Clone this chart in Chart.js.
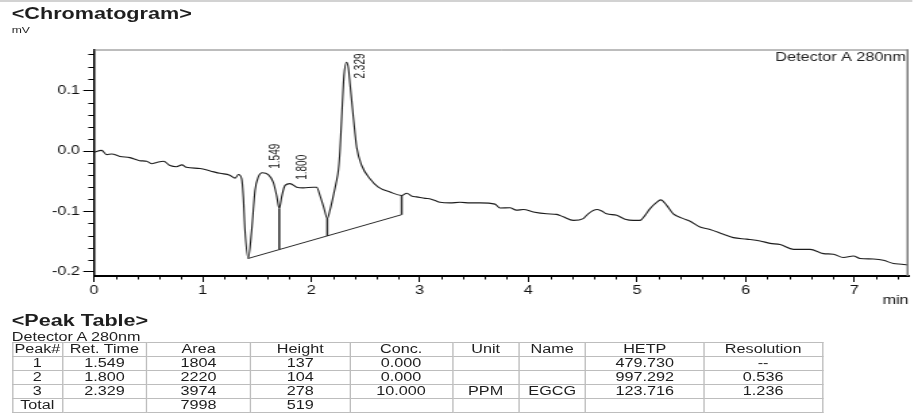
<!DOCTYPE html>
<html lang="en">
<head>
<meta charset="utf-8">
<title>Chromatogram</title>
<script src="https://cdn.jsdelivr.net/npm/chart.js@4.4.1/dist/chart.umd.min.js"></script>
<style>
  html, body { margin: 0; background: #fff; }
  body { font-family: 'Liberation Sans', Arial, sans-serif; color: #1e1e1e; }
  /* the report is drawn narrow and stretched sideways, like the printout */
  #page { position: relative; width: 676px; height: 417px; transform: scaleX(1.35); transform-origin: 0 0; overflow: hidden; }
  .top-rule { position: absolute; left: 0; top: 0; width: 676px; height: 2px; background: #d2d2d2; }
  .section-title { position: absolute; left: 8.7px; font-weight: bold; font-size: 16px; line-height: 16px; white-space: nowrap; }
  .small-label { position: absolute; left: 8.7px; white-space: nowrap; }
  #chromChart { position: absolute; left: 0; top: 0; }
  #peak-table { position: absolute; left: 8.7px; top: 342px; border-collapse: collapse; table-layout: fixed; width: 600px; font-size: 12px; color: #1e1e1e; }
  #peak-table td { border: 1px solid #bdbdbd; height: 13px; padding: 0; line-height: 13px; text-align: center; white-space: nowrap; overflow: hidden; }
</style>
</head>
<body>
<div id="page">
  <div class="top-rule"></div>
  <div class="section-title" style="top:6px">&lt;Chromatogram&gt;</div>
  <div class="small-label" style="top:25px; font-size:9px; line-height:10px">mV</div>
  <canvas id="chromChart" width="676" height="310"></canvas>
  <div class="section-title" style="top:313px">&lt;Peak Table&gt;</div>
  <div class="small-label" style="top:331px; font-size:12px; line-height:12px">Detector A 280nm</div>
  <table id="peak-table">
    <colgroup id="peak-cols"></colgroup>
    <tbody id="peak-body"></tbody>
  </table>
</div>

<script>
// ==============================================================
// 1. DATA
// ==============================================================
const timeMin = [
  0.00, 0.07, 0.117, 0.163, 0.24, 0.33, 0.42, 0.485, 0.53, 0.577, 0.64, 0.70, 0.76, 0.81, 0.85, 0.976,
  1.07, 1.16, 1.25, 1.30, 1.33, 1.36, 1.375, 1.39, 1.42, 1.452, 1.483, 1.513, 1.549, 1.605, 1.651, 1.682,
  1.706, 1.728, 1.759, 1.805, 1.866, 1.927, 2.02, 2.05, 2.081, 2.118, 2.148, 2.173, 2.204, 2.228, 2.25,
  2.265, 2.284, 2.302, 2.325, 2.342, 2.357, 2.388, 2.419, 2.465, 2.541, 2.618, 2.726, 2.833, 2.879, 2.93,
  2.97, 3.05, 3.09, 3.14, 3.186, 3.278, 3.37, 3.462, 3.554, 3.692, 3.738, 3.83, 3.89, 3.953, 4.045, 4.168,
  4.26, 4.32, 4.414, 4.505, 4.55, 4.63, 4.675, 4.72, 4.813, 4.89, 4.966, 5.028, 5.074, 5.12, 5.18, 5.218,
  5.273, 5.334, 5.426, 5.488, 5.58, 5.672, 5.795, 5.887, 6.01, 6.133, 6.225, 6.317, 6.44, 6.593, 6.716,
  6.808, 6.9, 6.992, 7.053, 7.176, 7.268, 7.36, 7.437, 7.5
];
const signalMv = [
  -0.002, 0.001, -0.006, -0.005, -0.009, -0.011, -0.016, -0.017, -0.021, -0.019, -0.017, -0.024, -0.026, -0.023, -0.027, -0.029,
  -0.033, -0.037, -0.040, -0.045, -0.039, -0.046, -0.076, -0.131, -0.178, -0.131, -0.065, -0.043, -0.036, -0.039, -0.052, -0.074,
  -0.0955, -0.076, -0.057, -0.054, -0.060, -0.061, -0.060, -0.060, -0.074, -0.095, -0.112, -0.098, -0.074, -0.054, -0.032,
  0.001, 0.067, 0.125, 0.147, 0.138, 0.112, 0.056, 0.006, -0.024, -0.046, -0.060, -0.068, -0.0736, -0.070, -0.075,
  -0.076, -0.0785, -0.079, -0.082, -0.085, -0.086, -0.085, -0.086, -0.086, -0.088, -0.0945, -0.094, -0.098, -0.097, -0.101, -0.104,
  -0.105, -0.109, -0.115, -0.112, -0.104, -0.097, -0.0995, -0.104, -0.1066, -0.113, -0.115, -0.115, -0.1066, -0.0955, -0.085, -0.081,
  -0.090, -0.104, -0.112, -0.1165, -0.126, -0.130, -0.138, -0.1435, -0.146, -0.149, -0.153, -0.155, -0.163, -0.163, -0.170,
  -0.171, -0.1765, -0.174, -0.178, -0.179, -0.181, -0.1865, -0.1876, -0.189
];

// integration baseline and drop lines
const baselineX = [1.42, 2.833];
const baselineY = [-0.178, -0.1055];
const dropX = [1.706, 2.148, 2.833];
const dropTop = [-0.0955, -0.112, -0.0736];
const dropBottom = [-0.1633, -0.1407, -0.1055];

// axes
const xMajorTicks = [0, 1, 2, 3, 4, 5, 6, 7];
const yMajorTicks = [-0.2, -0.1, 0.0, 0.1];
const X_MIN = 0, X_MAX = 7.5, X_MINOR_STEP = 0.2;
const Y_MIN = -0.2071, Y_MAX = 0.1682, Y_MINOR_STEP = 0.02;

// peak table
const peakNo = ['1', '2', '3'];
const retTime = [1.549, 1.800, 2.329];
const peakArea = [1804, 2220, 3974];
const peakHeight = [137, 104, 278];
const peakConc = ['0.000', '0.000', '10.000'];
const peakUnit = ['', '', 'PPM'];
const peakName = ['', '', 'EGCG'];
const peakHetp = ['479.730', '997.292', '123.716'];
const peakResolution = ['--', '0.536', '1.236'];
const totalArea = 7998;
const totalHeight = 519;
const tableHeader = ['Peak#', 'Ret. Time', 'Area', 'Height', 'Conc.', 'Unit', 'Name', 'HETP', 'Resolution'];
const tableColWidths = [37, 62.4, 77.1, 73.5, 75.9, 49.3, 49.4, 87.7, 87.7];

// ==============================================================
// 2. LAYOUT CONSTANTS (canvas units, before the sideways stretch)
// ==============================================================
const Y_AXIS_WIDTH = 69.6;
const X_AXIS_HEIGHT = 34;
const FONT = "'Liberation Sans', Arial, sans-serif";

function valueAt(t) {
  for (let i = 1; i < timeMin.length; i++) {
    if (timeMin[i] >= t) {
      const k = (t - timeMin[i - 1]) / (timeMin[i] - timeMin[i - 1]);
      return signalMv[i - 1] + k * (signalMv[i] - signalMv[i - 1]);
    }
  }
  return signalMv[signalMv.length - 1];
}

// ==============================================================
// 3. PLUGIN: frame, minor ticks, detector caption, peak labels
// ==============================================================
const chromDecor = {
  id: 'chromDecor',
  afterDraw(chart) {
    const { ctx, chartArea: a, scales: { x, y } } = chart;
    ctx.save();

    // grey top and right frame
    ctx.strokeStyle = '#7a7a7a';
    ctx.lineWidth = 1;
    ctx.beginPath();
    ctx.moveTo(a.left, a.top + 0.5);
    ctx.lineTo(a.right, a.top + 0.5);
    ctx.stroke();
    ctx.lineWidth = 1.5;
    ctx.beginPath();
    ctx.moveTo(a.right - 0.75, a.top);
    ctx.lineTo(a.right - 0.75, a.bottom);
    ctx.stroke();

    // minor ticks
    ctx.strokeStyle = '#000';
    ctx.lineWidth = 1;
    ctx.beginPath();
    const nx = Math.round((X_MAX - X_MIN) / X_MINOR_STEP);
    for (let i = 0; i <= nx; i++) {
      const v = X_MIN + i * X_MINOR_STEP;
      if (i % 5 === 0) continue;
      const px = Math.round(x.getPixelForValue(v)) + 0.5;
      ctx.moveTo(px, a.bottom);
      ctx.lineTo(px, a.bottom + 3.5);
    }
    const ny = Math.round((0.16 - (-0.2)) / Y_MINOR_STEP);
    for (let i = 0; i <= ny; i++) {
      if (i % 5 === 0) continue;
      const v = -0.2 + i * Y_MINOR_STEP;
      const py = Math.round(y.getPixelForValue(v)) + 0.5;
      ctx.moveTo(a.left, py);
      ctx.lineTo(a.left - 4.2, py);
    }
    ctx.stroke();

    // detector caption
    ctx.fillStyle = '#222';
    ctx.font = '12px ' + FONT;
    ctx.textAlign = 'right';
    ctx.textBaseline = 'alphabetic';
    ctx.fillText('Detector A 280nm', a.right - 2, a.top + 11.5);

    // rotated retention-time labels
    ctx.font = '10px ' + FONT;
    ctx.textAlign = 'left';
    retTime.forEach((rt) => {
      const label = rt.toFixed(3);
      const len = ctx.measureText(label).width;
      const px = x.getPixelForValue(rt) + 13;
      let bottom = y.getPixelForValue(valueAt(rt)) - 4;
      if (bottom - len < a.top + 4) bottom = a.top + 4 + len;
      ctx.save();
      ctx.translate(px, bottom);
      ctx.rotate(-Math.PI / 2);
      ctx.fillText(label, 0, 0);
      ctx.restore();
    });

    ctx.restore();
  }
};

// ==============================================================
// 4. CHART
// ==============================================================
const lineStyle = { pointRadius: 0, tension: 0, fill: false };
const datasets = [
  {
    ...lineStyle,
    data: timeMin.map((t, i) => ({ x: t, y: signalMv[i] })),
    borderColor: '#1c1c1c',
    borderWidth: 1.1,
    cubicInterpolationMode: 'monotone'
  },
  {
    ...lineStyle,
    data: baselineX.map((t, i) => ({ x: t, y: baselineY[i] })),
    borderColor: '#2a2a2a',
    borderWidth: 1
  },
  ...dropX.map((t, i) => ({
    ...lineStyle,
    data: [{ x: t, y: dropTop[i] }, { x: t, y: dropBottom[i] }],
    borderColor: '#2a2a2a',
    borderWidth: 1.5
  }))
];

new Chart(document.getElementById('chromChart').getContext('2d'), {
  type: 'line',
  data: { datasets },
  options: {
    responsive: false,
    animation: false,
    events: [],
    layout: { padding: { top: 49.5, right: 3, left: 0, bottom: 0 } },
    plugins: { legend: { display: false }, tooltip: { enabled: false } },
    scales: {
      x: {
        type: 'linear',
        min: X_MIN,
        max: X_MAX,
        afterBuildTicks: (scale) => { scale.ticks = xMajorTicks.map(v => ({ value: v })); },
        afterFit: (scale) => { scale.height = X_AXIS_HEIGHT; },
        grid: { drawOnChartArea: false, drawTicks: true, tickLength: 6, color: '#000', tickWidth: 1 },
        border: { display: true, color: '#000', width: 2 },
        ticks: { color: '#111', padding: 1.5, maxRotation: 0, font: { family: FONT, size: 12 }, callback: (v) => String(v) },
        title: { display: true, text: 'min', align: 'end', color: '#111', font: { family: FONT, size: 12 }, padding: { top: 0, bottom: 2 } }
      },
      y: {
        type: 'linear',
        min: Y_MIN,
        max: Y_MAX,
        afterBuildTicks: (scale) => { scale.ticks = yMajorTicks.map(v => ({ value: v })); },
        afterFit: (scale) => { scale.width = Y_AXIS_WIDTH; },
        grid: { drawOnChartArea: false, drawTicks: true, tickLength: 7.9, color: '#000', tickWidth: 1 },
        border: { display: true, color: '#000', width: 1.5 },
        ticks: { color: '#111', padding: 2.5, font: { family: FONT, size: 12 }, callback: (v) => v.toFixed(1) }
      }
    }
  },
  plugins: [chromDecor]
});

// ==============================================================
// 5. PEAK TABLE
// ==============================================================
const cols = document.getElementById('peak-cols');
tableColWidths.forEach(w => {
  const c = document.createElement('col');
  c.style.width = w + 'px';
  cols.appendChild(c);
});

const rows = [tableHeader];
peakNo.forEach((n, i) => {
  rows.push([n, retTime[i].toFixed(3), peakArea[i], peakHeight[i], peakConc[i], peakUnit[i], peakName[i], peakHetp[i], peakResolution[i]]);
});
rows.push(['Total', '', totalArea, totalHeight, '', '', '', '', '']);

const body = document.getElementById('peak-body');
rows.forEach(r => {
  const tr = document.createElement('tr');
  r.forEach(cell => {
    const td = document.createElement('td');
    td.textContent = cell;
    tr.appendChild(td);
  });
  body.appendChild(tr);
});
</script>
</body>
</html>
